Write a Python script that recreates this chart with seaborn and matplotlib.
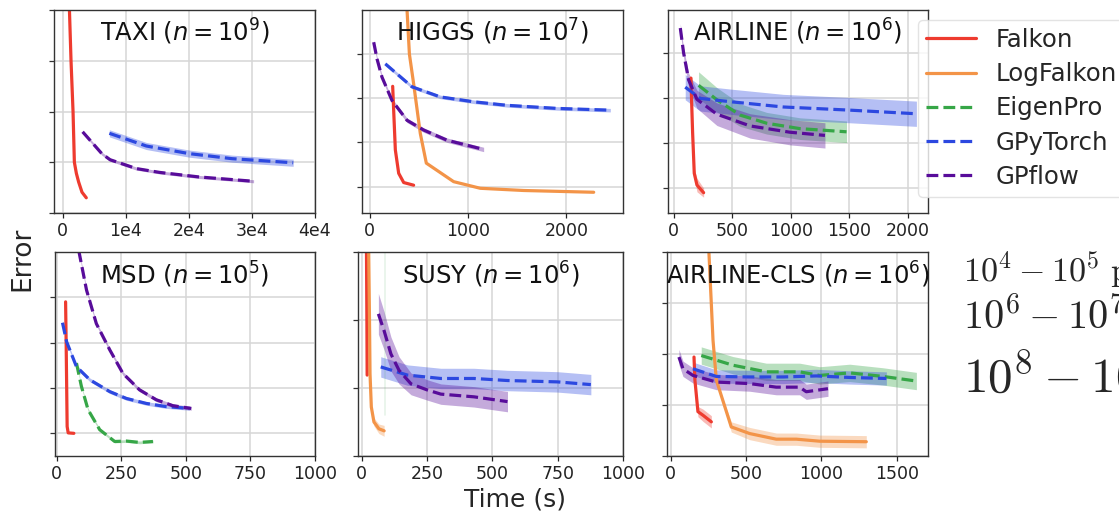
import numpy as np
import matplotlib
matplotlib.use("Agg")
import matplotlib.pyplot as plt
from matplotlib.lines import Line2D
import seaborn as sns

# ---------------- data ----------------
methods = ["Falkon", "LogFalkon", "EigenPro", "GPyTorch", "GPflow"]
colors = {"Falkon": "#ee3b2f", "LogFalkon": "#f39448", "EigenPro": "#36a647",
          "GPyTorch": "#2c48e0", "GPflow": "#580c9a"}
styles = {"Falkon": "-", "LogFalkon": "-", "EigenPro": "--", "GPyTorch": "--", "GPflow": "--"}

titles = [r"TAXI ($n = 10^9$)", r"HIGGS ($n = 10^7$)", r"AIRLINE ($n = 10^6$)",
          r"MSD ($n = 10^5$)", r"SUSY ($n = 10^6$)", r"AIRLINE-CLS ($n = 10^6$)"]

# TAXI
taxi_falkon_x = [1000, 1050, 1300, 1620, 1830, 2150, 2510, 3040, 3720]
taxi_falkon_y = [5.0, 4.0, 3.0, 2.0, 1.0, 0.78, 0.61, 0.41, 0.30]
taxi_falkon_s = [0.0]
taxi_gpytorch_x = [7380, 13250, 20050, 26860, 36540]
taxi_gpytorch_y = [1.57, 1.32, 1.17, 1.07, 0.99]
taxi_gpytorch_s = [0.07]
taxi_gpflow_x = [3140, 6180, 7490, 11680, 15340, 21620, 30260]
taxi_gpflow_y = [1.60, 1.17, 1.05, 0.875, 0.80, 0.71, 0.625]
taxi_gpflow_s = [0.03]

# HIGGS
higgs_falkon_x = [234, 244, 261, 295, 346, 447]
higgs_falkon_y = [3.27, 2.73, 1.83, 1.30, 1.09, 1.03]
higgs_falkon_s = [0.0]
higgs_logfalkon_x = [368, 404, 447, 515, 576, 854, 1125, 1566, 2278]
higgs_logfalkon_y = [5.5, 4.0, 3.33, 2.2, 1.53, 1.11, 0.96, 0.91, 0.87]
higgs_logfalkon_s = [0.0]
higgs_gpytorch_x = [159, 430, 719, 1058, 1397, 1905, 2447]
higgs_gpytorch_y = [3.78, 3.26, 3.03, 2.92, 2.84, 2.77, 2.73]
higgs_gpytorch_s = [0.04]
higgs_gpflow_x = [41, 75, 125, 227, 380, 549, 786, 1159]
higgs_gpflow_y = [4.27, 3.89, 3.48, 2.95, 2.50, 2.28, 2.05, 1.84]
higgs_gpflow_s = [0.05]

# AIRLINE
airline_falkon_x = [148, 153, 162, 176, 199, 256]
airline_falkon_y = [3.44, 2.96, 2.23, 1.33, 1.07, 0.90]
airline_falkon_s = [0.05, 0.05, 0.05, 0.10, 0.15, 0.10]
airline_eigenpro_x = [213, 369, 567, 794, 1078, 1475]
airline_eigenpro_y = [3.28, 2.96, 2.62, 2.44, 2.32, 2.25]
airline_eigenpro_s = [0.30, 0.27, 0.25, 0.24, 0.24, 0.24]
airline_gpytorch_x = [99, 227, 511, 936, 1504, 2071]
airline_gpytorch_y = [3.24, 2.99, 2.91, 2.80, 2.73, 2.65]
airline_gpytorch_s = [0.28]
airline_gpflow_x = [57, 85, 128, 199, 369, 653, 993, 1291]
airline_gpflow_y = [4.55, 4.0, 3.40, 2.97, 2.64, 2.38, 2.24, 2.17]
airline_gpflow_s = [0.10, 0.10, 0.15, 0.20, 0.25, 0.27, 0.28, 0.28]

# MSD
msd_falkon_x = [35, 37, 41, 45, 67]
msd_falkon_y = [3.90, 3.06, 1.15, 1.01, 1.0]
msd_falkon_s = [0.0]
msd_eigenpro_x = [77, 96, 122, 167, 225, 270, 321, 373]
msd_eigenpro_y = [2.55, 2.04, 1.52, 1.08, 0.82, 0.83, 0.80, 0.82]
msd_eigenpro_s = [0.03]
msd_gpytorch_x = [23, 39, 77, 129, 206, 270, 347, 424, 514]
msd_gpytorch_y = [3.44, 3.02, 2.47, 2.18, 1.92, 1.77, 1.66, 1.59, 1.55]
msd_gpytorch_s = [0.04]
msd_gpflow_x = [73, 87, 116, 154, 206, 257, 321, 386, 450, 521]
msd_gpflow_y = [5.4, 5.0, 4.16, 3.42, 2.84, 2.32, 1.96, 1.74, 1.61, 1.55]
msd_gpflow_s = [0.04]

# SUSY
susy_falkon_x = [18, 20, 21]
susy_falkon_y = [3.3, 2.0, 1.19]
susy_falkon_s = [0.0]
susy_logfalkon_x = [26, 30, 32, 37, 47, 66, 86]
susy_logfalkon_y = [3.3, 2.0, 1.21, 0.72, 0.50, 0.40, 0.37]
susy_logfalkon_s = [0.0, 0.0, 0.02, 0.04, 0.06, 0.07, 0.08]
susy_eigenpro_x = [90, 90]
susy_eigenpro_y = [3.0, 0.6]
susy_eigenpro_s = [0.0]
susy_gpytorch_x = [73, 175, 303, 430, 558, 749, 877]
susy_gpytorch_y = [1.31, 1.19, 1.14, 1.14, 1.11, 1.09, 1.05]
susy_gpytorch_s = [0.15]
susy_gpflow_x = [64, 86, 112, 143, 189, 252, 303, 430, 558]
susy_gpflow_y = [2.09, 1.84, 1.50, 1.26, 1.06, 0.97, 0.91, 0.87, 0.80]
susy_gpflow_s = [0.30, 0.28, 0.25, 0.20, 0.16, 0.15, 0.15, 0.15, 0.15]

# AIRLINE-CLS
cls_falkon_x = [155, 161, 181, 214, 270]
cls_falkon_y = [1.94, 1.49, 0.87, 0.80, 0.67]
cls_falkon_s = [0.02, 0.05, 0.10, 0.12, 0.12]
cls_logfalkon_x = [249, 281, 303, 402, 524, 700, 833, 988, 1297]
cls_logfalkon_y = [4.3, 2.27, 1.49, 0.57, 0.44, 0.33, 0.33, 0.29, 0.28]
cls_logfalkon_s = [0.0, 0.0, 0.0, 0.10, 0.12, 0.12, 0.12, 0.12, 0.12]
cls_eigenpro_x = [203, 413, 634, 855, 988, 1187, 1408, 1629]
cls_eigenpro_y = [1.97, 1.78, 1.65, 1.65, 1.58, 1.63, 1.56, 1.47]
cls_eigenpro_s = [0.17]
cls_gpytorch_x = [148, 303, 524, 745, 966, 1187, 1430]
cls_gpytorch_y = [1.71, 1.56, 1.55, 1.55, 1.57, 1.54, 1.52]
cls_gpytorch_s = [0.13]
cls_gpflow_x = [55, 82, 148, 303, 524, 700, 855, 899, 1043]
cls_gpflow_y = [1.94, 1.71, 1.58, 1.45, 1.42, 1.35, 1.35, 1.26, 1.32]
cls_gpflow_s = [0.15]

# axis ticks / limits
taxi_xticks = [0, 10000, 20000, 30000, 40000]
taxi_xticklabels = ["0", "1e4", "2e4", "3e4", "4e4"]
higgs_xticks = [0, 1000, 2000]
airline_xticks = [0, 500, 1000, 1500, 2000]
msd_xticks = [0, 250, 500, 750, 1000]
susy_xticks = [0, 250, 500, 750, 1000]
cls_xticks = [0, 500, 1000, 1500]

# annotation text on the right (clipped by the figure edge, as in the reference)
size_notes = [r"$10^4 - 10^5\ \mathrm{points}$",
              r"$10^6 - 10^7\ \mathrm{points}$",
              r"$10^8 - 10^9\ \mathrm{points}$"]

# ---------------- style ----------------
sns.set_theme(style="ticks", rc={
    "axes.grid": True, "grid.color": "#d6d6d6", "grid.linewidth": 1.1,
    "axes.edgecolor": "#333333", "axes.linewidth": 1.0,
    "xtick.major.size": 3.5, "ytick.major.size": 3.5,
    "xtick.major.width": 0.9, "ytick.major.width": 0.9,
    "xtick.major.pad": 3.0,
    "xtick.labelsize": 12.5, "axes.axisbelow": True,
    "xtick.color": "#222222", "ytick.color": "#333333",
})
plt.rcParams["font.family"] = ["DejaVu Sans"]
plt.rcParams["mathtext.fontset"] = "dejavusans"

W, H = 1119, 512
fig = plt.figure(figsize=(W / 100, H / 100), dpi=100)


def px_rect(l, r, t, b):
    return [l / W, 1 - b / H, (r - l) / W, (b - t) / H]


panels = [
    dict(rect=px_rect(54, 315, 10, 213), xlim=(-1400, 40000), ylim=(0, 4), yticks=[0, 1, 2, 3, 4],
         xticks=taxi_xticks, xticklabels=taxi_xticklabels,
         series=[("Falkon", taxi_falkon_x, taxi_falkon_y, taxi_falkon_s),
                 ("GPyTorch", taxi_gpytorch_x, taxi_gpytorch_y, taxi_gpytorch_s),
                 ("GPflow", taxi_gpflow_x, taxi_gpflow_y, taxi_gpflow_s)]),
    dict(rect=px_rect(362, 623, 10, 213), xlim=(-78, 2576), ylim=(0.4, 5.0), yticks=[1, 2, 3, 4],
         xticks=higgs_xticks, xticklabels=None,
         series=[("Falkon", higgs_falkon_x, higgs_falkon_y, higgs_falkon_s),
                 ("LogFalkon", higgs_logfalkon_x, higgs_logfalkon_y, higgs_logfalkon_s),
                 ("GPyTorch", higgs_gpytorch_x, higgs_gpytorch_y, higgs_gpytorch_s),
                 ("GPflow", higgs_gpflow_x, higgs_gpflow_y, higgs_gpflow_s)]),
    dict(rect=px_rect(668, 928, 10, 213), xlim=(-48, 2170), ylim=(0.45, 4.95), yticks=[1, 2, 3, 4],
         xticks=airline_xticks, xticklabels=None,
         series=[("Falkon", airline_falkon_x, airline_falkon_y, airline_falkon_s),
                 ("EigenPro", airline_eigenpro_x, airline_eigenpro_y, airline_eigenpro_s),
                 ("GPyTorch", airline_gpytorch_x, airline_gpytorch_y, airline_gpytorch_s),
                 ("GPflow", airline_gpflow_x, airline_gpflow_y, airline_gpflow_s)]),
    dict(rect=px_rect(55, 315, 252, 456), xlim=(-6, 1000), ylim=(0.5, 5.0), yticks=[1, 2, 3, 4],
         xticks=msd_xticks, xticklabels=None,
         series=[("Falkon", msd_falkon_x, msd_falkon_y, msd_falkon_s),
                 ("EigenPro", msd_eigenpro_x, msd_eigenpro_y, msd_eigenpro_s),
                 ("GPyTorch", msd_gpytorch_x, msd_gpytorch_y, msd_gpytorch_s),
                 ("GPflow", msd_gpflow_x, msd_gpflow_y, msd_gpflow_s)]),
    dict(rect=px_rect(358, 623, 252, 456), xlim=(-14, 1000), ylim=(0, 3), yticks=[0, 1, 2, 3],
         xticks=susy_xticks, xticklabels=None,
         series=[("Falkon", susy_falkon_x, susy_falkon_y, susy_falkon_s),
                 ("LogFalkon", susy_logfalkon_x, susy_logfalkon_y, susy_logfalkon_s),
                 ("EigenPro", susy_eigenpro_x, susy_eigenpro_y, susy_eigenpro_s),
                 ("GPyTorch", susy_gpytorch_x, susy_gpytorch_y, susy_gpytorch_s),
                 ("GPflow", susy_gpflow_x, susy_gpflow_y, susy_gpflow_s)]),
    dict(rect=px_rect(667, 928, 252, 456), xlim=(-24, 1706), ylim=(0, 4), yticks=[0, 1, 2, 3, 4],
         xticks=cls_xticks, xticklabels=None,
         series=[("Falkon", cls_falkon_x, cls_falkon_y, cls_falkon_s),
                 ("LogFalkon", cls_logfalkon_x, cls_logfalkon_y, cls_logfalkon_s),
                 ("EigenPro", cls_eigenpro_x, cls_eigenpro_y, cls_eigenpro_s),
                 ("GPyTorch", cls_gpytorch_x, cls_gpytorch_y, cls_gpytorch_s),
                 ("GPflow", cls_gpflow_x, cls_gpflow_y, cls_gpflow_s)]),
]

for i, p in enumerate(panels):
    ax = fig.add_axes(p["rect"])
    for name, xs, ys, ss in p["series"]:
        x = np.asarray(xs, float)
        y = np.asarray(ys, float)
        s = np.broadcast_to(np.asarray(ss, float), y.shape)
        faint = (i == 4 and name == "EigenPro")
        if np.any(s > 0):
            ax.fill_between(x, y - s, y + s, color=colors[name], alpha=0.35, lw=0)
        sns.lineplot(x=x, y=y, ax=ax, color=colors[name],
                     linestyle="-" if faint else styles[name],
                     linewidth=1.2 if faint else 2.3, alpha=0.12 if faint else 1.0,
                     sort=False, estimator=None, legend=False)
    ax.set_xlim(*p["xlim"])
    ax.set_ylim(*p["ylim"])
    ax.set_xticks(p["xticks"])
    if p["xticklabels"] is not None:
        ax.set_xticklabels(p["xticklabels"])
    ax.set_yticks(p["yticks"])
    ax.tick_params(axis="y", labelleft=False)
    ax.tick_params(axis="x", labelsize=12.5)
    ax.set_xlabel("")
    ax.set_ylabel("")
    ax.text(0.5, 0.845, titles[i], transform=ax.transAxes, ha="center", va="baseline",
            fontsize=17.5, color="#111111")

# legend
handles = [Line2D([0], [0], color=colors[m], linestyle=styles[m], linewidth=2.3) for m in methods]
fig.legend(handles, methods, loc="upper left", bbox_to_anchor=(918 / W, 1 - 20 / H),
           borderaxespad=0, fontsize=17.6, handlelength=2.06, handletextpad=0.8,
           borderpad=0.32, labelspacing=0.42, frameon=True, framealpha=0.8,
           edgecolor="#dddddd", fancybox=True)

# axis labels
fig.text(22 / W, 1 - 259 / H, "Error", rotation=90, fontsize=19, ha="center", va="center")
fig.text(515 / W, 1 - 507 / H, "Time (s)", fontsize=18, ha="center", va="baseline")

# clipped annotation text on the right
note_sizes = [24.5, 29, 35.5]
note_baselines = [281, 329, 393]
for txt, fs, yb in zip(size_notes, note_sizes, note_baselines):
    fig.text(963 / W, 1 - yb / H, txt, fontsize=fs, math_fontfamily="cm",
             ha="left", va="baseline")

fig.savefig("out.png", dpi=100, facecolor="white")
